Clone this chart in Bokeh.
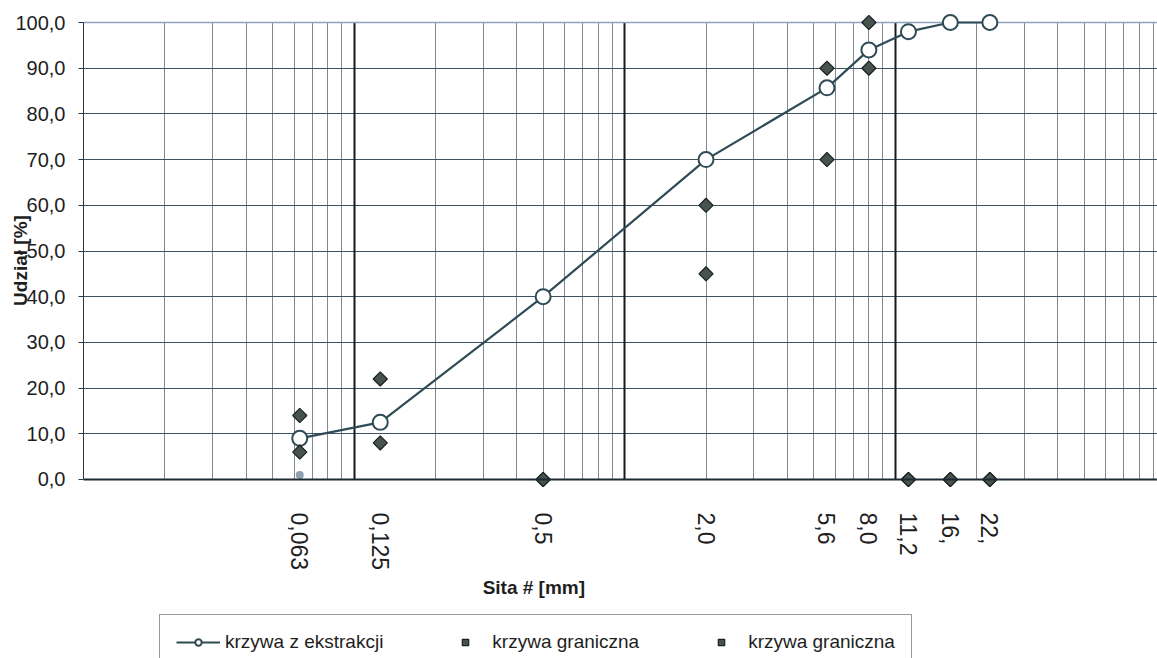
import math
from bokeh.plotting import figure
from bokeh.models import FixedTicker, Range1d, Legend, LegendItem, Grid, Label
from bokeh.embed import file_html
from bokeh.resources import INLINE

# ---- data ----
sieves = [0.063, 0.125, 0.5, 2.0, 5.6, 8.0, 11.2, 16.0, 22.4]
sieve_labels = ["0,063", "0,125", "0,5", "2,0", "5,6", "8,0", "11,2", "16,", "22,"]
extraction = [9.0, 12.5, 40.0, 70.0, 85.7, 94.0, 98.0, 100.0, 100.0]
limit_lower = [6.0, 8.0, 0.0, 45.0, 70.0, 90.0, 0.0, 0.0, 0.0]
limit_upper = [14.0, 22.0, 0.0, 60.0, 90.0, 100.0, 0.0, 0.0, 0.0]
pan_x = [0.063]
pan_y = [1.0]
y_ticks = [0, 10, 20, 30, 40, 50, 60, 70, 80, 90, 100]
y_labels = ["0,0", "10,0", "20,0", "30,0", "40,0", "50,0", "60,0", "70,0", "80,0", "90,0", "100,0"]

X_MIN, X_MAX = 0.01, 93.3       # plotted sieve-size band
FONT = "Liberation Sans"
LINE_C = "#2f4b55"

# the frame is widened to the left so that the axis titles are inside it;
# the visible axes sit at x = X_MIN and y = 0
x_start = 10 ** (math.log10(X_MIN) - 83 / (1074 / math.log10(X_MAX / X_MIN)))

p = figure(width=1157, height=658, x_axis_type="log",
           x_range=Range1d(x_start, X_MAX), y_range=Range1d(-39.17, 102.19),
           output_backend="svg", toolbar_location=None,
           min_border_left=0, min_border_right=0, min_border_top=12,
           min_border_bottom=0)
p.outline_line_color = None
p.background_fill_color = "white"
p.border_fill_color = "white"

# grids (limited to the plotting band)
minor = [m * 10 ** e for e in (-2, -1, 0, 1) for m in range(2, 10)]
p.xgrid.ticker = FixedTicker(ticks=minor)
p.xgrid.grid_line_color = "#7f8992"
p.xgrid.grid_line_width = 1
p.xgrid.cross_bounds = (0, 100)
p.add_layout(Grid(dimension=0, ticker=FixedTicker(ticks=[0.1, 1, 10]),
                  cross_bounds=(0, 100),
                  grid_line_color="#151a1e", grid_line_width=2))
p.ygrid.ticker = FixedTicker(ticks=y_ticks[1:-1])
p.ygrid.grid_line_color = "#3e5260"
p.ygrid.grid_line_width = 1
p.ygrid.cross_bounds = (X_MIN, X_MAX)
p.add_layout(Grid(dimension=1, ticker=FixedTicker(ticks=[100]),
                  cross_bounds=(X_MIN, X_MAX),
                  grid_line_color="#8fa3bd", grid_line_width=1.5))

# axes
p.yaxis.fixed_location = X_MIN
p.yaxis.ticker = FixedTicker(ticks=y_ticks)
p.yaxis.bounds = (0, 100)
p.yaxis.major_label_overrides = {t: l for t, l in zip(y_ticks, y_labels)}
p.yaxis.major_label_text_font = FONT
p.yaxis.major_label_text_font_size = "20px"
p.yaxis.major_label_text_color = "#1e1e1e"
p.yaxis.major_label_standoff = 13
p.yaxis.major_tick_out = 5
p.yaxis.major_tick_in = 0
p.yaxis.minor_tick_line_color = None
p.yaxis.axis_line_color = "#2a3a44"
p.yaxis.major_tick_line_color = "#2a3a44"

p.xaxis.fixed_location = 0
p.xaxis.bounds = (X_MIN, X_MAX)
p.xaxis.ticker = FixedTicker(ticks=sieves)
p.xaxis.major_label_overrides = {t: l for t, l in zip(sieves, sieve_labels)}
p.xaxis.major_label_orientation = -math.pi / 2
p.xaxis.major_label_text_font = FONT
p.xaxis.major_label_text_font_size = "23px"
p.xaxis.major_label_text_color = "#1e1e1e"
p.xaxis.major_label_standoff = 27
p.xaxis.major_tick_line_color = None
p.xaxis.minor_tick_line_color = None
p.xaxis.axis_line_color = "#1e2a32"
p.xaxis.axis_line_width = 2

# glyphs
line_r = p.line(sieves, extraction, line_color=LINE_C, line_width=2.2)
circ_r = p.scatter(sieves, extraction, size=15, fill_color="white",
                   line_color=LINE_C, line_width=2)
lo_r = p.scatter(sieves, limit_lower, marker="square", angle=math.pi / 4, size=10,
                 fill_color="#46534f", line_color="#1a2220", line_width=1.2)
up_r = p.scatter(sieves, limit_upper, marker="square", angle=math.pi / 4, size=10,
                 fill_color="#46534f", line_color="#1a2220", line_width=1.2)
p.scatter(pan_x, pan_y, size=8, fill_color="#90a0ae", line_color=None)

# axis titles
p.add_layout(Label(x=536, y=71, x_units="screen", y_units="screen",
                   text="Sita #  [mm]", text_align="center", text_baseline="middle",
                   text_font=FONT, text_font_size="19px", text_font_style="bold",
                   text_color="#1e1e1e"))
p.add_layout(Label(x=20, y=398, x_units="screen", y_units="screen",
                   text="Udział [%]", angle=math.pi / 2, text_align="center",
                   text_baseline="middle", text_font=FONT, text_font_size="19px",
                   text_font_style="bold", text_color="#1e1e1e"))

legend = Legend(items=[
    LegendItem(label="krzywa z ekstrakcji", renderers=[line_r, circ_r]),
    LegendItem(label="krzywa graniczna", renderers=[lo_r]),
    LegendItem(label="krzywa graniczna", renderers=[up_r]),
], orientation="horizontal", location=(159, -12), margin=0,
    border_line_color="#333333", border_line_width=1,
    label_text_font=FONT, label_text_font_size="19px",
    label_text_color="#1e1e1e", glyph_width=44, glyph_height=16,
    label_height=16, label_standoff=5, spacing=60, padding=16,
    background_fill_color="white", background_fill_alpha=1)
p.add_layout(legend)

open("out.html", "w").write(file_html(p, INLINE))
